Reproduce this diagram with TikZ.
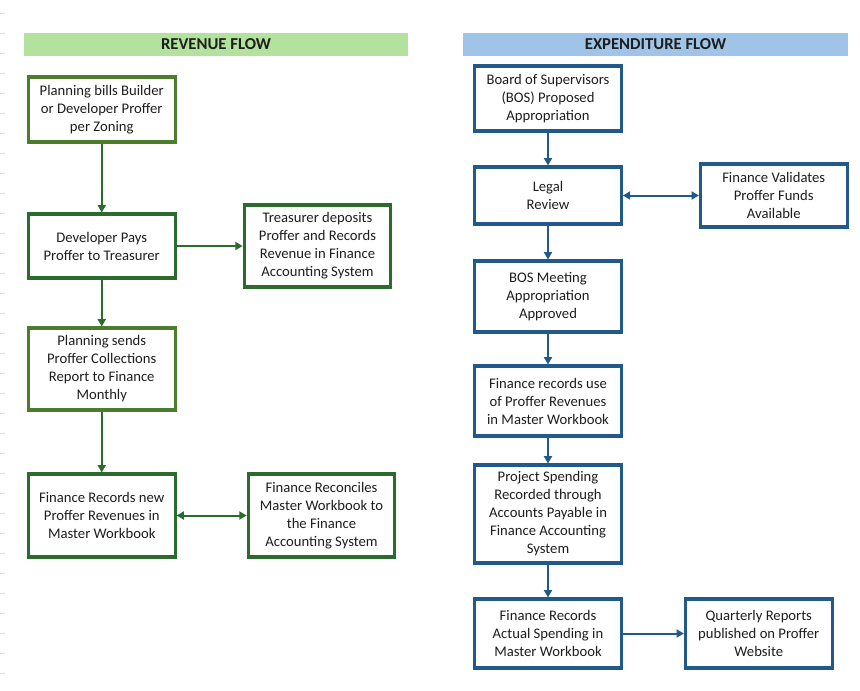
\documentclass[tikz,border=0pt]{standalone}
\usepackage{fontspec}
\setmainfont{Carlito}
\usetikzlibrary{arrows.meta}
\definecolor{gdark}{HTML}{2B6C2E}
\definecolor{golive}{HTML}{4A7D2C}
\definecolor{bdark}{HTML}{21598A}
\definecolor{hgreen}{HTML}{B2E29E}
\definecolor{hblue}{HTML}{A0C4E8}
\definecolor{txt}{HTML}{1E1E1E}
\tikzset{
  x=0.75pt, y=-0.75pt,
  box/.style={draw, line width=2.3pt, align=center, inner sep=0pt, fill=white,
    minimum width=110pt, text=txt, font=\fontsize{11}{13.5}\selectfont},
  gbox/.style={box, draw=gdark},
  obox/.style={box, draw=golive},
  bbox/.style={box, draw=bdark},
  hdr/.style={inner sep=0pt, minimum height=17.25pt, text=txt,
    font=\fontsize{12.5}{14}\selectfont\bfseries},
  garr/.style={draw=gdark, line width=1.5pt, -{Triangle[length=5.5pt,width=6pt]}},
  garr2/.style={draw=gdark, line width=1.5pt, {Triangle[length=5.5pt,width=6pt]}-{Triangle[length=5.5pt,width=6pt]}},
  barr/.style={draw=bdark, line width=1.5pt, -{Triangle[length=5.5pt,width=6pt]}},
  barr2/.style={draw=bdark, line width=1.5pt, {Triangle[length=5.5pt,width=6pt]}-{Triangle[length=5.5pt,width=6pt]}},
}
\begin{document}
\begin{tikzpicture}
\useasboundingbox (0,0) rectangle (860,690);
\fill[white] (0,0) rectangle (860,690);
% faint gridline ticks at left edge
\foreach \t in {13,33,...,673} \draw[gray!25, line width=0.6pt] (0,\t) -- (5,\t);

% headers
\node[hdr, fill=hgreen, minimum width=288pt] (hrev) at (216,44.5) {REVENUE FLOW};
\node[hdr, fill=hblue, minimum width=288.75pt] (hexp) at (655.5,44.5) {EXPENDITURE FLOW};

% revenue flow
\node[obox, minimum height=48.75pt] (l1) at (101.75,109.5) {Planning bills Builder\\or Developer Proffer\\per Zoning};
\node[gbox, minimum height=48pt] (l2) at (101.75,246) {Developer Pays\\Proffer to Treasurer};
\node[gbox, minimum height=61.5pt] (l3) at (317.5,246) {Treasurer deposits\\Proffer and Records\\Revenue in Finance\\Accounting System};
\node[obox, minimum height=61.5pt] (l4) at (101.75,369) {Planning sends\\Proffer Collections\\Report to Finance\\Monthly};
\node[gbox, minimum height=62.25pt] (l5) at (101.75,515.5) {Finance Records new\\Proffer Revenues in\\Master Workbook};
\node[gbox, minimum height=62.25pt] (l6) at (321.5,515.5) {Finance Reconciles\\Master Workbook to\\the Finance\\Accounting System};

\draw[garr] (l1.south) -- (l2.north);
\draw[garr] (l2.east) -- (l3.west);
\draw[garr] (l2.south) -- (l4.north);
\draw[garr] (l4.south) -- (l5.north);
\draw[garr2] (l5.east) -- (l6.west);

% expenditure flow
\node[bbox, minimum height=48.75pt] (r1) at (548,98.5) {Board of Supervisors\\(BOS) Proposed\\Appropriation};
\node[bbox, minimum height=42.75pt] (r2) at (548,195.5) {Legal\\Review};
\node[bbox, minimum height=47.25pt] (r3) at (773.75,195.5) {Finance Validates\\Proffer Funds\\Available};
\node[bbox, minimum height=53.25pt] (r4) at (548,296.5) {BOS Meeting\\Appropriation\\Approved};
\node[bbox, minimum height=52.5pt] (r5) at (548,401) {Finance records use\\of Proffer Revenues\\in Master Workbook};
\node[bbox, minimum height=73.5pt] (r6) at (548,514) {Project Spending\\Recorded through\\Accounts Payable in\\Finance Accounting\\System};
\node[bbox, minimum height=51.75pt] (r7) at (548,633.5) {Finance Records\\Actual Spending in\\Master Workbook};
\node[bbox, minimum height=51.75pt] (r8) at (758.75,633.5) {Quarterly Reports\\published on Proffer\\Website};

\draw[barr] (r1.south) -- (r2.north);
\draw[barr2] (r2.east) -- (r3.west);
\draw[barr] (r2.south) -- (r4.north);
\draw[barr] (r4.south) -- (r5.north);
\draw[barr] (r5.south) -- (r6.north);
\draw[barr] (r6.south) -- (r7.north);
\draw[barr] (r7.east) -- (r8.west);
\end{tikzpicture}
\end{document}
